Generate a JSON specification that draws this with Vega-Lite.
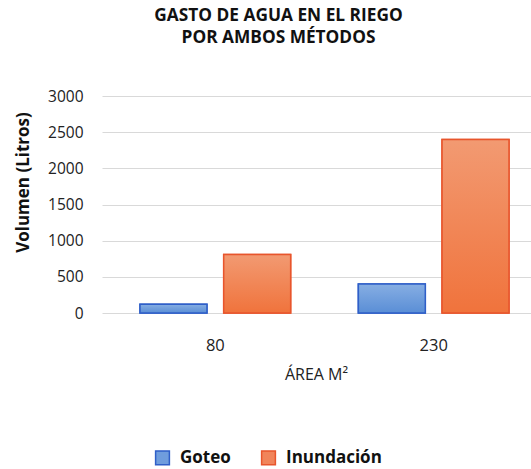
{
  "$schema": "https://vega.github.io/schema/vega-lite/v6.json",
  "width": 445,
  "height": 217,
  "autosize": {"type": "none"},
  "padding": {"left": 102, "top": 96, "right": 0, "bottom": 156},
  "background": "white",
  "config": {
    "font": "Open Sans",
    "view": {"stroke": null}
  },
  "title": {
    "text": ["GASTO DE AGUA EN EL RIEGO", "POR AMBOS MÉTODOS"],
    "font": "Open Sans",
    "fontSize": 17.3,
    "fontWeight": "bold",
    "color": "#111111",
    "anchor": "middle",
    "dx": -46,
    "offset": 43,
    "lineHeight": 22
  },
  "data": {
    "values": [
      {"area": "80", "metodo": "Goteo", "volumen": 120},
      {"area": "80", "metodo": "Inundación", "volumen": 810},
      {"area": "230", "metodo": "Goteo", "volumen": 400},
      {"area": "230", "metodo": "Inundación", "volumen": 2400}
    ]
  },
  "encoding": {
    "x": {
      "field": "area",
      "type": "nominal",
      "sort": ["80", "230"],
      "scale": {"paddingInner": 0.31, "paddingOuter": 0.174},
      "axis": {
        "title": "ÁREA M²",
        "titleFont": "Open Sans",
        "titleFontSize": 16,
        "titleFontWeight": "normal",
        "titleColor": "#222222",
        "titlePadding": 13,
        "titleX": 214,
        "labelAngle": 0,
        "labelFontSize": 16.5,
        "labelColor": "#222222",
        "labelPadding": 24,
        "domain": false,
        "ticks": false
      }
    },
    "xOffset": {
      "field": "metodo",
      "type": "nominal",
      "scale": {"paddingInner": 0.2, "paddingOuter": 0}
    },
    "y": {
      "field": "volumen",
      "type": "quantitative",
      "scale": {"domain": [0, 3000]},
      "axis": {
        "title": "Volumen (Litros)",
        "titleFont": "Open Sans",
        "titleFontSize": 17,
        "titleFontWeight": "bold",
        "titleColor": "#111111",
        "titleAngle": -90,
        "titleX": -70,
        "titleY": 86,
        "titleAlign": "center",
        "titleBaseline": "bottom",
        "values": [0, 500, 1000, 1500, 2000, 2500, 3000],
        "format": "d",
        "labelFontSize": 15.5,
        "labelColor": "#222222",
        "labelPadding": 19,
        "domain": false,
        "ticks": false,
        "grid": true,
        "gridColor": "#d9d9d9",
        "gridWidth": 1.2
      }
    }
  },
  "layer": [
    {
      "mark": {"type": "bar", "strokeWidth": 1.5},
      "encoding": {
        "fill": {
          "field": "metodo",
          "type": "nominal",
          "scale": {"domain": ["Goteo", "Inundación"], "range": ["#6f9ddd", "#f1845a"]},
          "legend": {
            "title": null,
            "orient": "none",
            "legendX": 52,
            "legendY": 353,
            "direction": "horizontal",
            "symbolType": "square",
            "symbolSize": 190,
            "symbolStrokeWidth": 1.5,
            "labelFont": "Open Sans",
            "labelFontSize": 17,
            "labelFontWeight": "bold",
            "labelColor": "#111111",
            "columnPadding": 27,
            "labelOffset": 9
          }
        },
        "stroke": {
          "field": "metodo",
          "type": "nominal",
          "scale": {"domain": ["Goteo", "Inundación"], "range": ["#2f5fc8", "#e8552c"]},
          "legend": {
            "title": null,
            "orient": "none",
            "legendX": 52,
            "legendY": 353,
            "direction": "horizontal",
            "symbolType": "square",
            "symbolSize": 190,
            "symbolStrokeWidth": 1.5,
            "labelFont": "Open Sans",
            "labelFontSize": 17,
            "labelFontWeight": "bold",
            "labelColor": "#111111",
            "columnPadding": 27,
            "labelOffset": 9
          }
        }
      }
    },
    {
      "mark": {"type": "bar", "strokeWidth": 1.5},
      "encoding": {
        "fill": {
          "condition": {
            "test": "datum.metodo === 'Goteo'",
            "value": {"gradient": "linear", "x1": 0, "y1": 0, "x2": 0, "y2": 1, "stops": [{"offset": 0, "color": "#86aee3"}, {"offset": 1, "color": "#5a8ed6"}]}
          },
          "value": {"gradient": "linear", "x1": 0, "y1": 0, "x2": 0, "y2": 1, "stops": [{"offset": 0, "color": "#f29a72"}, {"offset": 1, "color": "#f0733c"}]}
        },
        "stroke": {
          "condition": {"test": "datum.metodo === 'Goteo'", "value": "#2f5fc8"},
          "value": "#e8552c"
        }
      }
    }
  ]
}
